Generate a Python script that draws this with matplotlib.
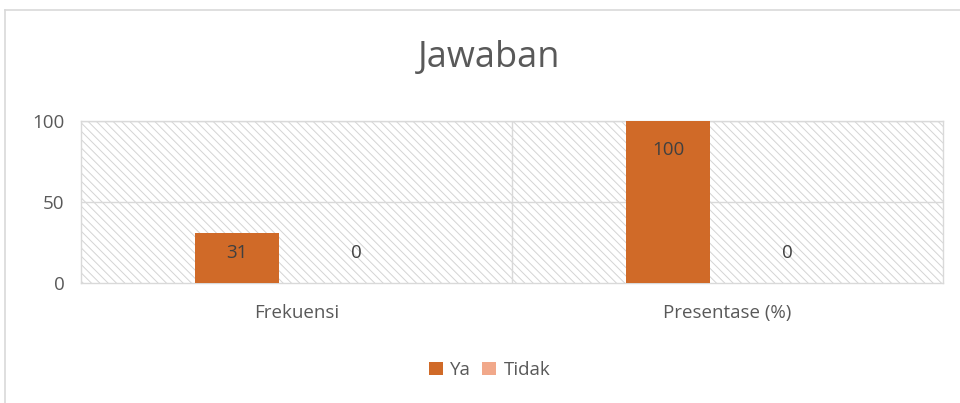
import matplotlib
matplotlib.use("Agg")
import matplotlib.pyplot as plt
from matplotlib.patches import Rectangle
from matplotlib.lines import Line2D
import numpy as np

categories = ["Frekuensi", "Presentase (%)"]
series_names = ["Ya", "Tidak"]
ya_values = [31, 100]
tidak_values = [0, 0]
yticks = [0, 50, 100]

ya_color = "#d06a28"
tidak_color = "#f1a88a"
text_color = "#595959"
grid_color = "#d9d9d9"

plt.rcParams["font.family"] = ["Open Sans", "DejaVu Sans"]
plt.rcParams["hatch.linewidth"] = 0.7
plt.rcParams["hatch.color"] = "#d4d4d4"

fig = plt.figure(figsize=(9.6, 4.03), dpi=100)
ax = fig.add_axes([0.0844, 0.2978, 0.8979, 0.402])

# hatched plot-area background
ax.add_patch(Rectangle((0, 0), 1, 1, transform=ax.transAxes, facecolor="white",
                       edgecolor="#d4d4d4", hatch="\\\\\\\\", linewidth=0, zorder=0))

x = np.arange(len(categories))
width = 0.195
offset = 0.138
bars_ya = ax.bar(x - offset, ya_values, width, color=ya_color, label=series_names[0], zorder=3)
bars_tidak = ax.bar(x + offset, tidak_values, width, color=tidak_color, label=series_names[1], zorder=3)

ax.set_xlim(-0.5, 1.5)
ax.set_ylim(0, 100)

# px per data unit (axes height 162 px for 100 units)
px_per_unit = 0.402 * 403 / 100
for bars, vals in [(bars_ya, ya_values), (bars_tidak, tidak_values)]:
    for b, v in zip(bars, vals):
        cx = b.get_x() + b.get_width() / 2
        if v > 0:
            dy = -min(29, 0.4 * v * px_per_unit) * 0.72
        else:
            dy = 30 * 0.72
        ax.annotate(str(v), (cx, v), xytext=(0, dy), textcoords="offset points",
                    ha="center", va="center", fontsize=13.5, color="#404040", zorder=4)

ax.set_yticks(yticks)
ax.set_xticks(x)
ax.set_xticklabels(categories)
ax.tick_params(axis="both", length=0, labelsize=13.5, labelcolor=text_color)
ax.tick_params(axis="x", pad=15)
ax.tick_params(axis="y", pad=12)

for v in [50, 100]:
    ax.axhline(v, color=grid_color, linewidth=1, zorder=1)
ax.axvline(0.5, color=grid_color, linewidth=1, zorder=1)
for s in ax.spines.values():
    s.set_color(grid_color)
    s.set_linewidth(1)

fig.text(0.51, 0.856, "Jawaban", ha="center", va="center", fontsize=26, color=text_color)

ax.legend(loc="center", bbox_to_anchor=(0.51, 0.082), bbox_transform=fig.transFigure,
          ncol=2, frameon=False, fontsize=13.5, labelcolor=text_color,
          handlelength=0.75, handleheight=0.75, handletextpad=0.4, columnspacing=0.6)

# outer chart border
fig.add_artist(Line2D([5 / 960, 1], [1 - 10 / 403, 1 - 10 / 403], transform=fig.transFigure,
                      color=grid_color, linewidth=1.2))
fig.add_artist(Line2D([5 / 960, 5 / 960], [0, 1 - 10 / 403], transform=fig.transFigure,
                      color=grid_color, linewidth=1.2))

fig.savefig("out.png", dpi=100)
